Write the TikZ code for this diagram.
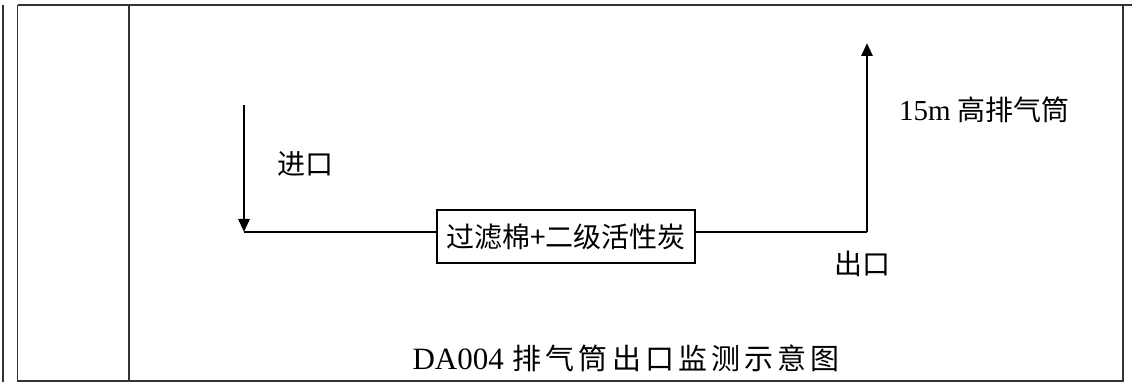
\documentclass[tikz,border=0pt]{standalone}
\usepackage{fontspec}
\setmainfont{Liberation Serif}
\newfontfamily\cjk{Noto Sans CJK SC}
\newfontfamily\cjkwide[LetterSpace=14]{Noto Sans CJK SC}
\usetikzlibrary{arrows.meta,positioning}
\tikzset{
  tabline/.style={line width=1.6pt, color=black!80},
  flow/.style={line width=2.8pt, line join=round},
  unitbox/.style={draw, line width=1.3pt, minimum width=258pt, minimum height=53pt, inner sep=0pt, font=\cjk\fontsize{28}{32}\selectfont},
  lbl/.style={inner sep=0pt, font=\cjk\fontsize{28}{32}\selectfont}
}
\begin{document}
\begin{tikzpicture}[x=1pt,y=1pt,>={Triangle[width=11pt,length=13pt]}, line cap=butt]
	\useasboundingbox (0,0) rectangle (1132,382);
	% table frame
	\draw[tabline] (3,377)--(3,0);
	\draw[tabline] (17.5,377)--(17.5,1)--(1123,1)--(1123,377);
	\draw[tabline] (129,377)--(129,1);
	\draw[tabline] (17.5,377)--(1132,377);
	% flow
	\coordinate (inTop) at (244,277);
	\coordinate (inEnd) at (244,150);
	\coordinate (outEnd) at (867,150);
	\coordinate (outTop) at (867,339);
	\node[unitbox] (filter) at (566,145.5) {过滤棉+二级活性炭};
	\draw[flow,->] (inTop)--(inEnd);
	\draw[flow] (inEnd)--(filter.west |- inEnd);
	\draw[flow] (filter.east |- outEnd)--(outEnd);
	\draw[flow,->] (outEnd)--(outTop);
	% labels
	\node[lbl] (inlet) at (305,218) {进口};
	\node[lbl] (outlet) at (862,118) {出口};
	\node[lbl, anchor=west] (stack) at (899,272) {{\rmfamily\fontsize{29}{32}\selectfont 15m}\hspace{7pt}高排气筒};
	\node[inner sep=0pt] (title) at (626,24) {{\rmfamily\fontsize{31}{34}\selectfont DA004}\hspace{9pt}{\cjkwide\fontsize{29}{34}\selectfont 排气筒出口监测示意图}};
\end{tikzpicture}
\end{document}
